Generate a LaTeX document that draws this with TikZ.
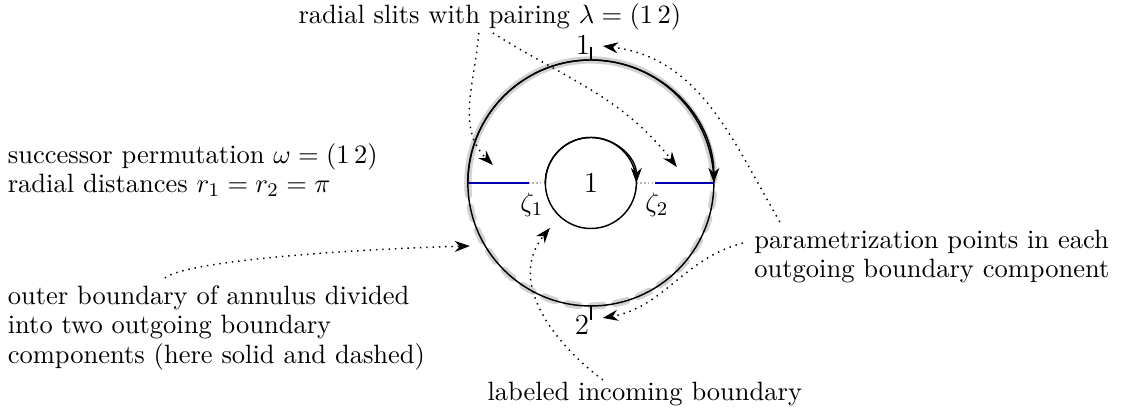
\documentclass[tikz,border=0pt]{standalone}
\usepackage{amsmath}
\usepackage{xcolor}
\usetikzlibrary{arrows.meta}

\begin{document}
\begin{tikzpicture}[
    font=\fontsize{10.95}{12}\selectfont,
    pointer/.style={dotted, semithick, -{Stealth[length=2.2mm,width=1.6mm]}},
    slit/.style={blue!70!black, semithick},
    gap/.style={gray!60, densely dotted, semithick},
    bdry/.style={gray!35, line width=3pt},
  ]
    \useasboundingbox (-8.58,-3.296) rectangle (7.80,2.657);
    \def\R{1.786}
    \def\r{0.661}

    % outgoing boundary components (solid and dashed)
    \draw[bdry] (180:\R) arc (180:0:\R);
    \draw[bdry, dash pattern=on 5pt off 5pt, line cap=round] (180:\R) arc (180:360:\R);

    % radial slits
    \draw[gap] (-\r,0) -- (-0.90,0);
    \draw[gap] (\r,0) -- (0.93,0);
    \draw[slit] (-\R,0) -- (-0.90,0);
    \draw[slit] (0.93,0) -- (\R,0);

    % annulus
    \draw[semithick] (0,0) circle (\R);
    \draw[semithick, -{Stealth[length=2.2mm,width=1.6mm]}] (180:\R) arc (180:0:\R);
    \draw[semithick] (0,0) circle (\r);
    \draw[semithick, -{Stealth[length=2.2mm,width=1.6mm]}] (180:\r) arc (180:0:\r);
    \node (inc) at (0,0) {\large $1$};
    \node (z1) at (-0.857,-0.32) {$\zeta_1$};
    \node (z2) at (0.958,-0.32) {$\zeta_2$};

    % parametrization points
    \draw[semithick] (0,\R) -- (0,1.97);
    \draw[semithick] (0,-\R) -- (0,-1.99);
    \node (p1) at (-0.116,2.0) {\large $1$};
    \node (p2) at (-0.13,-2.06) {\large $2$};

    % labels
    \node (slits) at (-1.467,2.41) {radial slits with pairing $\lambda = (1\,2)$};
    \node[align=left, anchor=west] (perm) at (-8.59,0.19)
        {successor permutation $\omega = (1\,2)$\\ radial distances $r_1 = r_2 = \pi$};
    \node[align=left, anchor=west] (outer) at (-8.59,-2.105)
        {outer boundary of annulus divided\\ into two outgoing boundary\\ components (here solid and dashed)};
    \node[align=left, anchor=west] (param) at (2.251,-1.067)
        {parametrization points in each\\ outgoing boundary component};
    \node (lab) at (0.784,-3.06) {labeled incoming boundary};

    % arrow ends
    \coordinate (a1) at (-1.626,2.178);
    \coordinate (a2) at (-1.423,2.178);
    \coordinate (a3) at (2.744,-0.566);
    \coordinate (a4) at (2.207,-0.871);
    \coordinate (a5) at (-6.186,-1.379);
    \coordinate (a6) at (0.174,-2.86);
    \coordinate (s1) at (-1.423,0.261);
    \coordinate (s2) at (1.249,0.232);
    \coordinate (t1) at (0.174,1.989);
    \coordinate (t2) at (0.174,-1.96);
    \coordinate (ob) at (-1.757,-0.915);
    \coordinate (ib) at (-0.595,-0.653);

    \draw[pointer] (a1) to[out=-95, in=135] (s1);
    \draw[pointer] (a2) to[out=-32, in=128] (s2);
    \draw[pointer] (a3) to[out=120, in=-7] (t1);
    \draw[pointer] (a4) to[out=195, in=10] (t2);
    \draw[pointer] (a5) .. controls (-5.895,-1.147) and (-3.79,-0.973) .. (ob);
    \draw[pointer] (a6) .. controls (-0.523,-2.338) and (-1.234,-1.437) .. (ib);
\end{tikzpicture}
\end{document}
